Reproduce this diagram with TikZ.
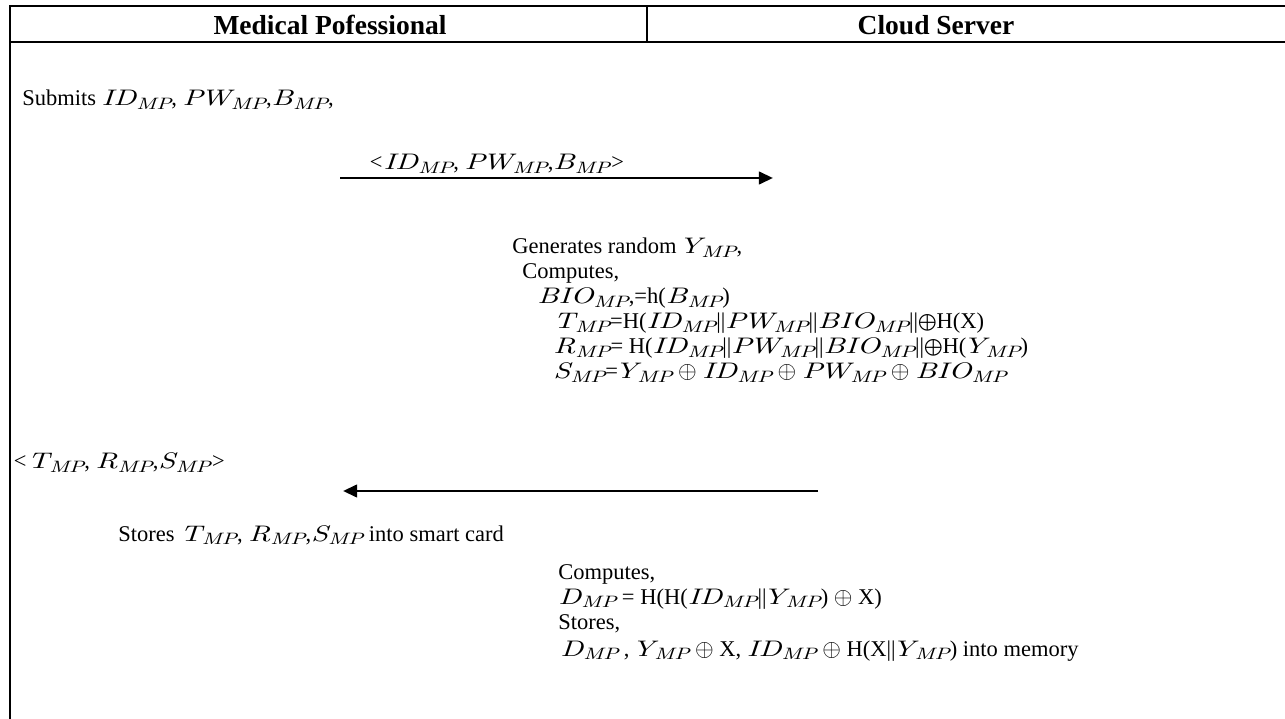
\documentclass[tikz,border=0pt]{standalone}
\usepackage{fontspec}
\setmainfont{Liberation Serif}
% wide italic for the protocol variables
\newfontfamily\mvfont{lmroman10-italic.otf}[FakeStretch=1.35]
\newcommand{\mv}[2]{{\mvfont #1\raisebox{-0.4ex}{\fontsize{9.9}{10}\selectfont #2}}}
\newcommand{\Ymp}{\mv{\kern-.15em Y}{MP}}
\newcommand{\PWmp}{\mv{P\kern-.12em W}{MP}}
\usetikzlibrary{arrows.meta}

\begin{document}
\begin{tikzpicture}[x=0.6pt, y=-0.6pt,
    every node/.style={inner sep=0pt, font=\fontsize{13.5}{15}\selectfont},
    txt/.style={anchor=base west},
    head/.style={font=\fontsize{16.5}{18}\selectfont\bfseries},
    frameline/.style={line width=1.2pt},
    msgline/.style={line width=1.7pt, -{Triangle[length=8.5pt,width=7.5pt]}}]
\useasboundingbox (0,0) rectangle (1285,719);

% table frame
\draw[frameline] (1285,6.5) -- (10,6.5) -- (10,719);
\draw[frameline] (10,42) -- (1285,42);
\draw[frameline] (647,6.5) -- (647,42);

% column heads
\node[head] (mp) at (330,25) {Medical Pofessional};
\node[head] (cs) at (936,25) {Cloud Server};

% medical professional submits
\node[txt] (submit) at (22,106) {Submits \mv{ID}{MP}, \PWmp,\mv{B}{MP},};

% first message
\coordinate (m1a) at (340,178);
\coordinate (m1b) at (773,178);
\node[txt] (m1lbl) at (368,170) {\textit{<}\mv{ID}{MP}, \PWmp,\mv{B}{MP}\textit{>}};
\draw[msgline] (m1a) -- (m1b);

% server side computation
\node[txt] (gen)  at (512,254) {Generates random \Ymp,};
\node[txt] (comp) at (522,279) {Computes,};
\node[txt] (bio)  at (537,304) {\mv{BIO}{MP},=h(\mv{B}{MP})};
\node[txt] (tmp)  at (553,329) {\mv{T}{MP}=H(\mv{ID}{MP}||\PWmp||\mv{BIO}{MP}||$\bigoplus$H(X)};
\node[txt] (rmp)  at (553,354) {\mv{R}{MP}= H(\mv{ID}{MP}||\PWmp||\mv{BIO}{MP}||$\bigoplus$H(\Ymp)};
\node[txt] (smp)  at (553,379) {\mv{S}{MP}=\Ymp{} $\oplus$ \mv{ID}{MP} $\oplus$ \PWmp{} $\oplus$ \mv{BIO}{MP}};

% second message
\node[txt] (m2lbl) at (12,469) {\textit{<}\mv{T}{MP}, \mv{R}{MP},\mv{S}{MP}\textit{>}};
\coordinate (m2a) at (818,491);
\coordinate (m2b) at (343,491);
\draw[msgline] (m2a) -- (m2b);

% smart card and memory
\node[txt] (card) at (118,541) {Stores \mv{T}{MP}, \mv{R}{MP},\mv{S}{MP} into smart card};
\node[txt] (comp2) at (558,579) {Computes,};
\node[txt] (dmp)   at (558,604) {\mv{D}{MP} = H(H(\mv{ID}{MP}||\Ymp) $\oplus$ X)};
\node[txt] (store) at (558,629) {Stores,};
\node[txt] (mem)   at (560,656) {\mv{D}{MP} , \Ymp{} $\oplus$ X, \mv{ID}{MP} $\oplus$ H(X||\Ymp) into memory};

\end{tikzpicture}
\end{document}
